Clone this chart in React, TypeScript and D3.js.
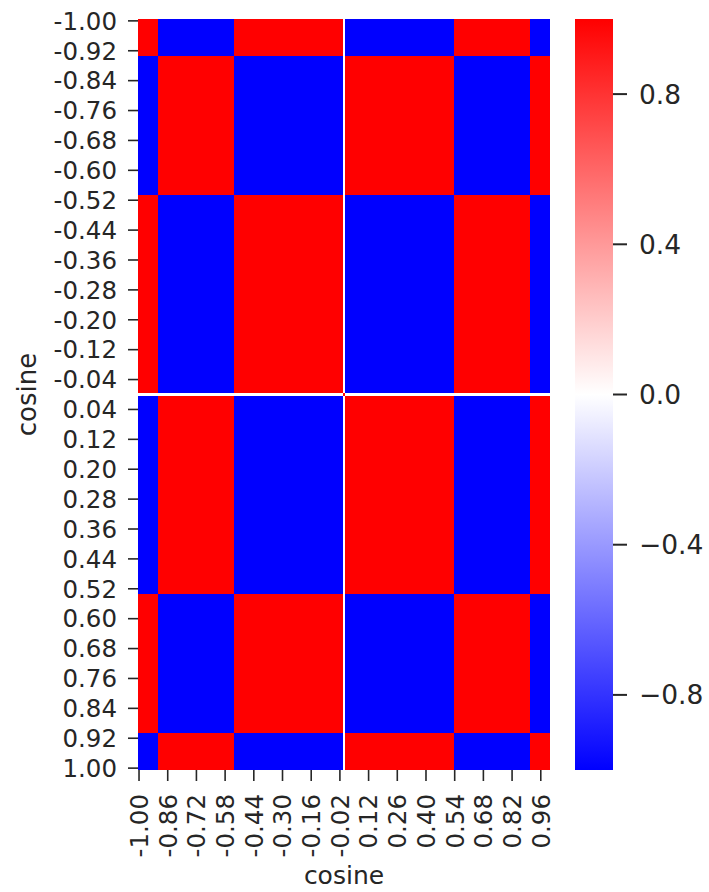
import React, { useMemo } from "react";
import * as d3 from "d3";

// Grid of "cosine" values along both axes: -1.00 .. 1.00 in steps of 0.01
const gridStart = -1;
const gridStep = 0.01;
const gridCount = 201;

// Bands of the underlying 1-D component: edges and their signs
const bandEdges = [-1, -0.905, -0.535, 0, 0.535, 0.905, 1];
const bandSigns = [-1, 1, -1, 1, -1, 1];

// Tick label strides
const yLabelEvery = 8;
const xLabelEvery = 14;

// Colorbar ticks
const cbarTicks = [0.8, 0.4, 0.0, -0.4, -0.8];

const W = 709;
const H = 892;
const left = 138;
const right = 550;
const top = 19;
const bottom = 770;
const cbLeft = 575;
const cbRight = 613;
const textColor = "#262626";
const font = "DejaVu Sans";

function componentSign(v: number): number {
  if (Math.abs(v) < 1e-9) return 0;
  for (let i = 0; i < bandSigns.length; i++) {
    if (v >= bandEdges[i] && v <= bandEdges[i + 1]) return bandSigns[i];
  }
  return 0;
}

export default function App() {
  const values = useMemo(
    () => d3.range(gridCount).map((i) => +(gridStart + i * gridStep).toFixed(2)),
    []
  );
  const labels = values.map((v) => v.toFixed(2));
  const x = d3.scaleBand<string>().domain(labels).range([left, right]);
  const y = d3.scaleBand<string>().domain(labels).range([top, bottom]);
  const color = d3
    .scaleLinear<string>()
    .domain([-1, 0, 1])
    .range(["#0000ff", "#ffffff", "#ff0000"])
    .clamp(true);
  const cbY = d3.scaleLinear().domain([-1, 1]).range([bottom, top]);

  const cells = useMemo(() => {
    const out: JSX.Element[] = [];
    const signs = values.map(componentSign);
    for (let r = 0; r < gridCount; r++) {
      for (let c = 0; c < gridCount; c++) {
        let v = signs[r] * signs[c];
        if (signs[r] === 0 && signs[c] === 0) v = 1;
        out.push(
          <rect
            key={r * gridCount + c}
            x={x(labels[c])}
            y={y(labels[r])}
            width={x.bandwidth() + 0.3}
            height={y.bandwidth() + 0.3}
            fill={color(v)}
          />
        );
      }
    }
    return out;
  }, []);

  const yTickIdx = d3.range(0, gridCount, yLabelEvery);
  const xTickIdx = d3.range(0, gridCount, xLabelEvery);
  const fs = 24.5;

  return (
    <svg width={W} height={H} style={{ position: "absolute", left: 0, top: 0 }} fontFamily={font}>
      <rect x={0} y={0} width={W} height={H} fill="#ffffff" />
      <g shapeRendering="crispEdges">{cells}</g>
      {yTickIdx.map((i) => {
        const cy = (y(labels[i]) as number) + y.bandwidth() / 2;
        return (
          <g key={"y" + i}>
            <line x1={left - 10} x2={left} y1={cy} y2={cy} stroke={textColor} strokeWidth={1.6} />
            <text x={left - 21} y={cy} dy="0.36em" textAnchor="end" fontSize={fs} fill={textColor}>
              {labels[i]}
            </text>
          </g>
        );
      })}
      {xTickIdx.map((i) => {
        const cx = (x(labels[i]) as number) + x.bandwidth() / 2;
        return (
          <g key={"x" + i}>
            <line x1={cx} x2={cx} y1={bottom} y2={bottom + 11} stroke={textColor} strokeWidth={1.6} />
            <text
              transform={`translate(${cx},${bottom + 24}) rotate(-90)`}
              dy="0.36em"
              textAnchor="end"
              fontSize={fs}
              fill={textColor}
            >
              {labels[i]}
            </text>
          </g>
        );
      })}
      <text
        transform={`translate(${(left + right) / 2},${884})`}
        textAnchor="middle"
        fontSize={25}
        fill={textColor}
      >
        cosine
      </text>
      <text
        transform={`translate(${36},${(top + bottom) / 2}) rotate(-90)`}
        textAnchor="middle"
        fontSize={26}
        fill={textColor}
      >
        cosine
      </text>
      <defs>
        <linearGradient id="cbar" x1="0" y1="1" x2="0" y2="0">
          <stop offset="0%" stopColor="#0000ff" />
          <stop offset="50%" stopColor="#ffffff" />
          <stop offset="100%" stopColor="#ff0000" />
        </linearGradient>
      </defs>
      <rect x={cbLeft} y={top} width={cbRight - cbLeft} height={bottom - top} fill="url(#cbar)" />
      {cbarTicks.map((t) => (
        <g key={"c" + t}>
          <line x1={cbRight} x2={cbRight + 14} y1={cbY(t)} y2={cbY(t)} stroke={textColor} strokeWidth={2} />
          <text x={cbRight + 26} y={cbY(t)} dy="0.36em" fontSize={26.5} fill={textColor}>
            {t < 0 ? "\u2212" + Math.abs(t).toFixed(1) : t.toFixed(1)}
          </text>
        </g>
      ))}
    </svg>
  );
}
